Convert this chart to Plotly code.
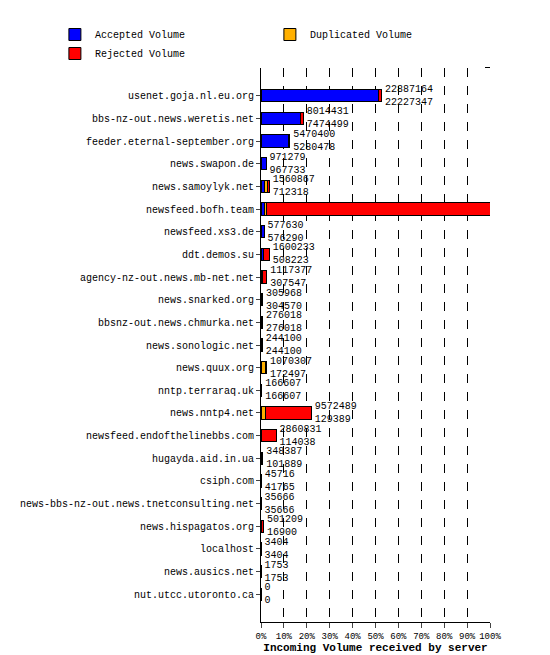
import plotly.graph_objects as go

# servers, top to bottom
servers = ["usenet.goja.nl.eu.org", "bbs-nz-out.news.weretis.net", "feeder.eternal-september.org",
           "news.swapon.de", "news.samoylyk.net", "newsfeed.bofh.team", "newsfeed.xs3.de",
           "ddt.demos.su", "agency-nz-out.news.mb-net.net", "news.snarked.org",
           "bbsnz-out.news.chmurka.net", "news.sonologic.net", "news.quux.org", "nntp.terraraq.uk",
           "news.nntp4.net", "newsfeed.endofthelinebbs.com", "hugayda.aid.in.ua", "csiph.com",
           "news-bbs-nz-out.news.tnetconsulting.net", "news.hispagatos.org", "localhost",
           "news.ausics.net", "nut.utcc.utoronto.ca"]
total = [22887164, 8014431, 5470400, 971279, 1560867, 43468231, 577630, 1600233, 1117377,
         305968, 276018, 244100, 1070307, 166607, 9572489, 2860831, 348387, 45716, 35666,
         501209, 3404, 1753, 0]
accepted = [22227347, 7474499, 5280478, 967733, 712318, 586317, 576290, 508223, 307547,
            304570, 276018, 244100, 172497, 166607, 129389, 114038, 101889, 41765, 35666,
            16900, 3404, 1753, 0]
# duplicated volume estimated from the orange slices
duplicated = [0, 0, 0, 0, 600000, 550000, 0, 0, 0, 0, 0, 0, 700000, 0, 800000, 0, 0, 0, 0,
              0, 0, 0, 0]
rejected = [t - a - d for t, a, d in zip(total, accepted, duplicated)]

mx = max(total)
pct = lambda vals: [v / mx * 100 for v in vals]

fig = go.Figure()
fig.add_trace(go.Bar(y=servers, x=pct(accepted), name="Accepted Volume", orientation="h",
                     marker=dict(color="#0000ff", line=dict(color="black", width=1))))
fig.add_trace(go.Bar(y=servers, x=pct(duplicated), name="Duplicated Volume", orientation="h",
                     marker=dict(color="#ffb000", line=dict(color="black", width=1))))
fig.add_trace(go.Bar(y=servers, x=pct(rejected), name="Rejected Volume", orientation="h",
                     marker=dict(color="#ff0000", line=dict(color="black", width=1))))
fig.add_trace(go.Scatter(y=servers, x=[p + 1.5 for p in pct(total)], mode="text",
                         text=[f"{t}<br>{a}" for t, a in zip(total, accepted)],
                         textposition="middle right", showlegend=False, hoverinfo="skip",
                         cliponaxis=False,
                         textfont=dict(size=10, color="black", family="Liberation Mono")))

fig.update_layout(
    width=550, height=655, barmode="stack", bargap=0.45,
    plot_bgcolor="white", paper_bgcolor="white",
    font=dict(family="Liberation Mono", size=10, color="black"),
    margin=dict(l=243, r=68, t=37, b=37),
    legend=dict(orientation="h", x=-0.9, y=1.0, xanchor="left", yanchor="bottom",
                entrywidth=170, font=dict(size=10), traceorder="normal"),
    xaxis=dict(range=[0, 100], tickvals=list(range(0, 101, 10)),
               ticktext=[f"{v}%" for v in range(0, 101, 10)], showgrid=True, tickangle=0,
               tickfont=dict(size=9),
               gridcolor="black", griddash="dash", gridwidth=1, zeroline=False,
               showline=True, linecolor="black", ticks="outside", mirror=True,
               title=dict(text="<b>Incoming Volume received by server</b>", standoff=2,
                          font=dict(size=11))),
    yaxis=dict(autorange="reversed", showline=True, linecolor="black", ticks="outside",
               ticklen=4, showgrid=False, tickfont=dict(size=10)),
)
fig.write_html("out.html")
